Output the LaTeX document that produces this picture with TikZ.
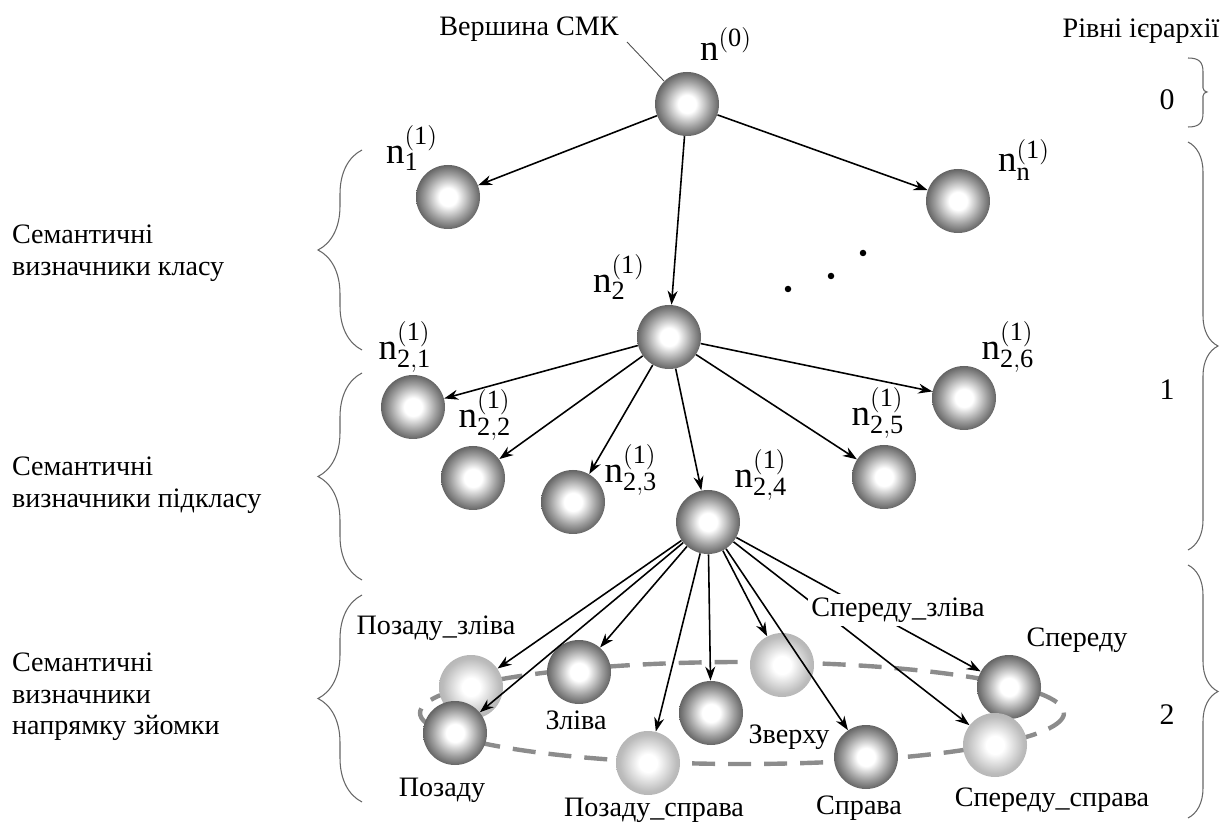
\documentclass[tikz,border=0pt]{standalone}
\usepackage{fontspec}
\setmainfont{Liberation Serif}
\usetikzlibrary{arrows.meta,decorations.pathreplacing}
\DeclareMathSizes{21}{21}{15}{11}

% Sphere shadings
\pgfdeclareradialshading{darkball}{\pgfpoint{0bp}{0bp}}{color(0bp)=(white); color(7bp)=(white); color(18bp)=(black!38); color(28bp)=(black!70); color(35bp)=(black!88); color(50bp)=(black!88)}
\pgfdeclareradialshading{lightball}{\pgfpoint{0bp}{0bp}}{color(0bp)=(white); color(7bp)=(white); color(22bp)=(black!26); color(35bp)=(black!36); color(50bp)=(black!36)}

\begin{document}
\begin{tikzpicture}[x=0.2mm,y=-0.2mm,
  ball/.style={circle,minimum size=12.8mm,inner sep=0pt,shading=darkball},
  pale/.style={circle,minimum size=12.8mm,inner sep=0pt,shading=lightball},
  lbl/.style={font=\fontsize{21}{24}\selectfont,inner sep=0pt},
  txt/.style={font=\fontsize{16}{18}\selectfont,inner sep=1pt},
  lvl/.style={font=\fontsize{17}{20}\selectfont,inner sep=0pt},
  arr/.style={-{Stealth[length=2.8mm,width=2mm]},line width=0.9pt},
  brc/.style={decorate,decoration={brace,amplitude=#1},black!60,line width=0.6pt}]

\useasboundingbox (0,0) rectangle (1221,830);

% Camera ring (behind the spheres)
\draw[black!45,line width=2.5pt,dash pattern=on 4.6mm off 2.6mm] (742,713) ellipse [x radius=322, y radius=51];

% Level 0
\node[ball] (n0) at (687,104) {};
\node[txt] (top) at (529,29) {Вершина СМК};
\coordinate (ptr) at (627,42);
\draw[black!70,line width=0.5pt] (ptr) -- (n0.north west);
\node[lbl] (l0) at (726,44) {$\mathrm{n}^{\mathrm{(0)}}$};

% Level 1: classes
\node[ball] (n1) at (448,197) {};
\node[ball] (n2) at (669,337) {};
\node[ball] (nn) at (958,201) {};
\node[lbl] (l1) at (412,148) {$\mathrm{n}^{\mathrm{(1)}}_{\mathrm{1}}$};
\node[lbl] (l2) at (619,277) {$\mathrm{n}^{\mathrm{(1)}}_{\mathrm{2}}$};
\node[lbl] (ln) at (1024,160) {$\mathrm{n}^{\mathrm{(1)}}_{\mathrm{n}}$};
\fill (788,289) circle (0.65mm) (831,276) circle (0.65mm) (863,253) circle (0.65mm);

% Level 1: subclasses
\node[ball] (n21) at (413,407) {};
\node[ball] (n22) at (473,478) {};
\node[ball] (n23) at (573,502) {};
\node[ball] (n24) at (708,522) {};
\node[ball] (n25) at (884,477) {};
\node[ball] (n26) at (964,398) {};
\node[lbl] (l21) at (405,347) {$\mathrm{n}^{\mathrm{(1)}}_{\mathrm{2,1}}$};
\node[lbl] (l22) at (485,415) {$\mathrm{n}^{\mathrm{(1)}}_{\mathrm{2,2}}$};
\node[lbl] (l23) at (631,470) {$\mathrm{n}^{\mathrm{(1)}}_{\mathrm{2,3}}$};
\node[lbl] (l24) at (761,475) {$\mathrm{n}^{\mathrm{(1)}}_{\mathrm{2,4}}$};
\node[lbl] (l25) at (878,413) {$\mathrm{n}^{\mathrm{(1)}}_{\mathrm{2,5}}$};
\node[lbl] (l26) at (1008,347) {$\mathrm{n}^{\mathrm{(1)}}_{\mathrm{2,6}}$};

% Level 2: shooting directions
\node[pale] (bl) at (471,687) {};
\node[ball] (b) at (455,733) {};
\node[ball] (l) at (579,672) {};
\node[pale] (br) at (648,763) {};
\node[ball] (c) at (711,713) {};
\node[pale] (t) at (782,665) {};
\node[ball] (r) at (866,757) {};
\node[ball] (f) at (1009,687) {};
\node[pale] (fr) at (995,745) {};

% Arrows
\foreach \to in {n1,n2,nn} \draw[arr] (n0) -- (\to);
\foreach \to in {n21,n22,n23,n24,n25,n26} \draw[arr] (n2) -- (\to);
\foreach \to in {bl,b,l,br,c,t,r,f,fr} \draw[arr] (n24) -- (\to);

% Direction labels
\node[txt] (tbl) at (436,628) {Позаду\_зліва};
\node[txt] (tb) at (442,790) {Позаду};
\node[txt] (tl) at (576,720) {Зліва};
\node[txt] (tbr) at (654,810) {Позаду\_справа};
\node[txt] (tt) at (789,737) {Зверху};
\node[txt] (tr) at (859,808) {Справа};
\node[txt,fill=white,inner sep=2pt] (tfl) at (898,610) {Спереду\_зліва};
\node[txt] (tf) at (1077,640) {Спереду};
\node[txt] (tfr) at (1052,800) {Спереду\_справа};

% Left braces and captions
\draw[brc=8.8mm] (362,350) -- (362,150);
\draw[brc=8.8mm] (362,580) -- (362,373);
\draw[brc=8.8mm] (362,802) -- (362,595);
\node[txt,anchor=west,align=left,font=\fontsize{16}{18}\selectfont] (cls) at (10,253) {Семантичні\\визначники класу};
\node[txt,anchor=west,align=left,font=\fontsize{16}{18}\selectfont] (sub) at (10,485) {Семантичні\\визначники підкласу};
\node[txt,anchor=west,align=left,font=\fontsize{16}{18}\selectfont] (dir) at (10,697) {Семантичні\\визначники\\напрямку зйомки};

% Right braces and hierarchy levels
\node[txt] (lev) at (1141,31) {Рівні ієрархії};
\draw[black!60,line width=0.6pt] (1188,58) .. controls (1199,58) and (1203,62) .. (1203,72) -- (1203,88)
  .. controls (1203,90) and (1205,92) .. (1207,92) .. controls (1205,92) and (1203,94) .. (1203,96)
  -- (1203,113) .. controls (1203,123) and (1199,127) .. (1188,127);
\draw[brc=6mm] (1188,142) -- (1188,550);
\draw[brc=6mm] (1188,565) -- (1188,818);
\node[lvl] (v0) at (1167,100) {0};
\node[lvl] (v1) at (1167,390) {1};
\node[lvl] (v2) at (1167,715) {2};

\end{tikzpicture}
\end{document}
